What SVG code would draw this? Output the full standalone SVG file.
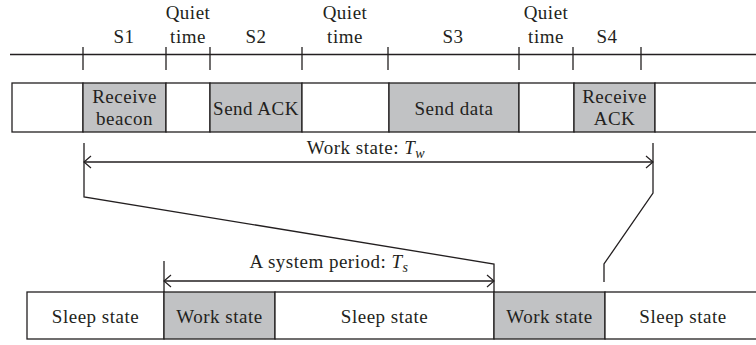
<svg xmlns="http://www.w3.org/2000/svg" width="756" height="345" viewBox="0 0 756 345">
  <style>
    .ln { stroke: #231f20; stroke-width: 1.3; fill: none; }
    .cell { stroke: #231f20; stroke-width: 1.3; fill: #ffffff; }
    .busy { stroke: #231f20; stroke-width: 1.3; fill: #c1c2c4; }
    .t { font-family: "Liberation Serif", "Times New Roman", serif; font-size: 19px; fill: #231f20; text-anchor: middle; letter-spacing: 0.5px; }
    .it { font-style: italic; }
  </style>
  <defs>
    <marker id="chev" viewBox="-9 -7 10 14" refX="0" refY="0" markerWidth="10" markerHeight="14" markerUnits="userSpaceOnUse" orient="auto-start-reverse">
      <path d="M-7,-6 L0,0 L-7,6" fill="none" stroke="#231f20" stroke-width="1.2"/>
    </marker>
  </defs>
  <rect width="756" height="345" fill="#ffffff"/>

  <!-- time axis with slot ticks -->
  <g id="axis">
    <line class="ln" x1="10" y1="54.5" x2="756" y2="54.5"/>
    <line class="ln" x1="83" y1="47" x2="83" y2="70"/>
    <line class="ln" x1="166" y1="47" x2="166" y2="70"/>
    <line class="ln" x1="210" y1="47" x2="210" y2="70"/>
    <line class="ln" x1="302" y1="47" x2="302" y2="70"/>
    <line class="ln" x1="388" y1="47" x2="388" y2="70"/>
    <line class="ln" x1="519" y1="47" x2="519" y2="70"/>
    <line class="ln" x1="573" y1="47" x2="573" y2="70"/>
    <line class="ln" x1="641" y1="47" x2="641" y2="70"/>
    <text class="t" x="124" y="43">S1</text>
    <text class="t" x="188" y="19">Quiet</text>
    <text class="t" x="188" y="43">time</text>
    <text class="t" x="256" y="43">S2</text>
    <text class="t" x="345" y="19">Quiet</text>
    <text class="t" x="345" y="43">time</text>
    <text class="t" x="453" y="43">S3</text>
    <text class="t" x="546" y="19">Quiet</text>
    <text class="t" x="546" y="43">time</text>
    <text class="t" x="607" y="43">S4</text>
  </g>

  <!-- work-state slots -->
  <g id="slots">
    <rect class="cell" x="12" y="83" width="71" height="49"/>
    <rect class="busy" x="83" y="83" width="83" height="49"/>
    <rect class="cell" x="166" y="83" width="44" height="49"/>
    <rect class="busy" x="210" y="83" width="92" height="49"/>
    <rect class="cell" x="302" y="83" width="87" height="49"/>
    <rect class="busy" x="389" y="83" width="130" height="49"/>
    <rect class="cell" x="519" y="83" width="55" height="49"/>
    <rect class="busy" x="574" y="83" width="81" height="49"/>
    <rect class="cell" x="655" y="83" width="110" height="49"/>
  </g>
  <g id="receive-beacon">
    <text class="t" x="124.5" y="103">Receive</text>
    <text class="t" x="124.5" y="125">beacon</text>
  </g>
  <g id="send-ack">
    <text class="t" x="256" y="115">Send ACK</text>
  </g>
  <g id="send-data">
    <text class="t" x="454" y="115">Send data</text>
  </g>
  <g id="receive-ack">
    <text class="t" x="614.5" y="103">Receive</text>
    <text class="t" x="614.5" y="125">ACK</text>
  </g>

  <!-- system timeline -->
  <g id="period-bar">
    <rect class="cell" x="27" y="292" width="137" height="47"/>
    <rect class="busy" x="164" y="292" width="111" height="47"/>
    <rect class="cell" x="275" y="292" width="219" height="47"/>
    <rect class="busy" x="494" y="292" width="111" height="47"/>
    <rect class="cell" x="605" y="292" width="160" height="47"/>
  </g>
  <g id="sleep-1"><text class="t" x="95.5" y="323">Sleep state</text></g>
  <g id="work-1"><text class="t" x="219.5" y="323">Work state</text></g>
  <g id="sleep-2"><text class="t" x="384.5" y="323">Sleep state</text></g>
  <g id="work-2"><text class="t" x="549.5" y="323">Work state</text></g>
  <g id="sleep-3"><text class="t" x="683" y="323">Sleep state</text></g>

  <!-- dimension lines and zoom guides -->
  <g id="connectors">
    <polyline class="ln" points="84,143 84,197 494,264 494,292"/>
    <polyline class="ln" points="653,143 653,193 604,264 604,282"/>
    <line class="ln" x1="164" y1="261" x2="164" y2="292"/>
    <line class="ln" x1="84" y1="162" x2="653" y2="162" marker-start="url(#chev)" marker-end="url(#chev)"/>
    <line class="ln" x1="164" y1="281" x2="494" y2="281" marker-start="url(#chev)" marker-end="url(#chev)"/>
  </g>
  <g id="labels">
    <text class="t" x="366" y="154">Work state: <tspan class="it">T</tspan><tspan class="it" font-size="14" dy="4">w</tspan></text>
    <text class="t" x="329" y="268">A system period: <tspan class="it">T</tspan><tspan class="it" font-size="14" dy="4">s</tspan></text>
  </g>
</svg>
